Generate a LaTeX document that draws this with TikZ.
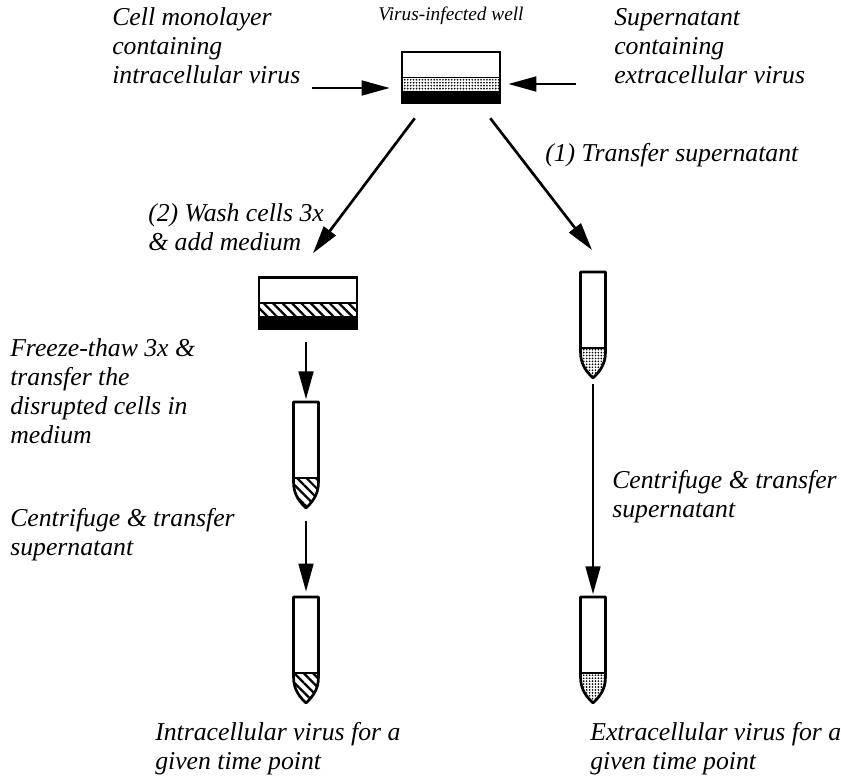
\documentclass[tikz,border=0pt]{standalone}
\usepackage{fontspec}
\setmainfont{Liberation Serif}
\usetikzlibrary{positioning,arrows.meta,patterns.meta}

\tikzset{
  txt/.style={font=\itshape\fontsize{19.3}{21.75}\selectfont, align=left, anchor=base west, inner sep=0pt},
  arr/.style={line width=2pt, -{Triangle[length=21pt,width=11pt]}},
  stipple/.style={pattern={Dots[radius=0.7pt,distance=2.2pt]}},
  hatch/.style={pattern={Lines[angle=-45,distance=5pt,line width=1.7pt]}},
  well/.pic={
    \node[minimum width=73.5pt, minimum height=38.25pt, inner sep=0pt] (-b) at (0,0) {};
    \fill[#1] (-49,0) rectangle (49,13);
    \fill (-49,13) rectangle (49,25.5);
    \draw[line width=1.2pt] (-49,0) -- (49,0);
    \draw[line width=2pt] (-49,-25.5) rectangle (49,25.5);
  },
  tube/.pic={
    \node[minimum width=18.75pt, minimum height=79.5pt, inner sep=0pt, anchor=north] (-b) at (0,0) {};
    \fill[#1] (-12.5,76) -- (-12.5,80) .. controls (-12.5,94) and (-5,101) .. (0,106)
      .. controls (5,101) and (12.5,94) .. (12.5,80) -- (12.5,76) -- cycle;
    \draw[line width=1.2pt] (-12.5,76) -- (12.5,76);
    \draw[line width=2pt, line join=round] (-12.5,0) -- (-12.5,80)
      .. controls (-12.5,94) and (-5,101) .. (0,106)
      .. controls (5,101) and (12.5,94) .. (12.5,80) -- (12.5,0) -- cycle;
  }
}

\begin{document}
\begin{tikzpicture}[x=0.75pt, y=-0.75pt]
    \useasboundingbox (0,0) rectangle (841,775);

    % wells and tubes
    \pic (top) at (451,77.5) {well=stipple};
    \pic (wash) at (308,303) {well=hatch};
    \pic (sup) at (593,272) {tube=stipple};
    \pic (lys) at (306,402) {tube=hatch};
    \pic (intra) at (306,597) {tube=hatch};
    \pic (extra) at (593,597) {tube=stipple};

    % labels (anchored at the baseline of their last line)
    \node[txt, anchor=base, font=\itshape\fontsize{14.5}{16}\selectfont] (title) at (451,20) {Virus-infected well};
    \node[txt] (mono) at (112,83) {Cell monolayer\\containing\\intracellular virus};
    \node[txt] (supn) at (614,83) {Supernatant\\containing\\extracellular virus};
    \node[txt] (step1) at (545,161) {(1) Transfer supernatant};
    \node[txt] (step2) at (148,250) {(2) Wash cells 3x\\\& add medium};
    \node[txt] (freeze) at (10,443) {Freeze-thaw 3x \&\\transfer the\\disrupted cells in\\medium};
    \node[txt] (cenL) at (10,555) {Centrifuge \& transfer\\supernatant};
    \node[txt] (cenR) at (612,517) {Centrifuge \& transfer\\supernatant};
    \node[txt] (resI) at (155,769) {Intracellular virus for a\\given time point};
    \node[txt] (resE) at (590,769) {Extracellular virus for a\\given time point};

    % arrows into the well
    \coordinate (inarr) at (312,88);
    \coordinate (exarr) at (576,84);
    \draw[arr, shorten >=9pt] (inarr) -- (inarr -| top-b.west);
    \draw[arr, shorten >=6pt] (exarr) -- (exarr -| top-b.east);

    % the two routes
    \draw[arr] ([shift={(13,15)}]top-b.south west) -- ([shift={(5,-24)}]wash-b.north);
    \draw[arr] ([shift={(-10,15)}]top-b.south east) -- ([shift={(-1,-22)}]sup-b.north);
    \draw[arr, shorten <=10pt, shorten >=2pt] (wash-b.south -| lys-b.north) -- (lys-b.north);
    \draw[arr, shorten <=9pt, shorten >=4pt] (lys-b.south) -- (intra-b.north);
    \draw[arr, shorten <=4pt, shorten >=2pt] (sup-b.south) -- (extra-b.north);
\end{tikzpicture}
\end{document}
